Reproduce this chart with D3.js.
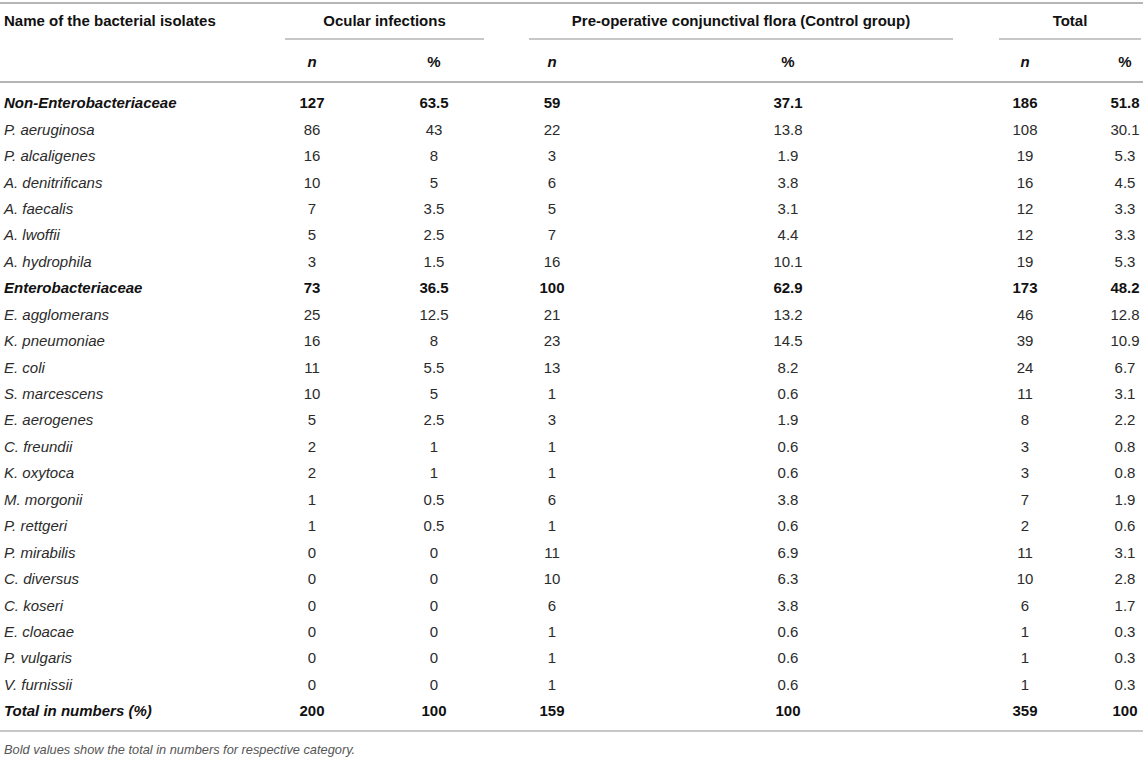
<!DOCTYPE html>
<html>
<head>
<meta charset="utf-8">
<script src="https://cdn.jsdelivr.net/npm/d3@7"></script>
<style>
  body { margin: 0; background: #fff; }
  svg text { font-family: "Liberation Sans", Arial, Helvetica, sans-serif; }
</style>
</head>
<body>
<div id="tbl"></div>
<script>

var width = 1143;
var height = 759;
var fontSize = "15px";

// table data
var isolates = ["Non-Enterobacteriaceae", "P. aeruginosa", "P. alcaligenes", "A. denitrificans",
  "A. faecalis", "A. lwoffii", "A. hydrophila", "Enterobacteriaceae", "E. agglomerans",
  "K. pneumoniae", "E. coli", "S. marcescens", "E. aerogenes", "C. freundii", "K. oxytoca",
  "M. morgonii", "P. rettgeri", "P. mirabilis", "C. diversus", "C. koseri", "E. cloacae",
  "P. vulgaris", "V. furnissii", "Total in numbers (%)"];
var boldRows = ["Non-Enterobacteriaceae", "Enterobacteriaceae", "Total in numbers (%)"];

var ocularN   = ["127", "86", "16", "10", "7", "5", "3", "73", "25", "16", "11", "10", "5", "2", "2", "1", "1", "0", "0", "0", "0", "0", "0", "200"];
var ocularPct = ["63.5", "43", "8", "5", "3.5", "2.5", "1.5", "36.5", "12.5", "8", "5.5", "5", "2.5", "1", "1", "0.5", "0.5", "0", "0", "0", "0", "0", "0", "100"];
var controlN   = ["59", "22", "3", "6", "5", "7", "16", "100", "21", "23", "13", "1", "3", "1", "1", "6", "1", "11", "10", "6", "1", "1", "1", "159"];
var controlPct = ["37.1", "13.8", "1.9", "3.8", "3.1", "4.4", "10.1", "62.9", "13.2", "14.5", "8.2", "0.6", "1.9", "0.6", "0.6", "3.8", "0.6", "6.9", "6.3", "3.8", "0.6", "0.6", "0.6", "100"];
var totalN   = ["186", "108", "19", "16", "12", "12", "19", "173", "46", "39", "24", "11", "8", "3", "3", "7", "2", "11", "10", "6", "1", "1", "1", "359"];
var totalPct = ["51.8", "30.1", "5.3", "4.5", "3.3", "3.3", "5.3", "48.2", "12.8", "10.9", "6.7", "3.1", "2.2", "0.8", "0.8", "1.9", "0.6", "3.1", "2.8", "1.7", "0.3", "0.3", "0.3", "100"];

var groups = ["Ocular infections", "Pre-operative conjunctival flora (Control group)", "Total"];
var firstHeader = "Name of the bacterial isolates";
var subHeaders = ["n", "%"];
var footnote = "Bold values show the total in numbers for respective category.";

var valueCols = [ocularN, ocularPct, controlN, controlPct, totalN, totalPct];
var colKeys = ["on", "op", "cn", "cp", "tn", "tp"];

// layout
var colX = d3.scaleOrdinal()
  .domain(colKeys)
  .range([312, 434, 552, 788, 1025, 1125]);

var groupSpan = [[285, 484], [529, 953], [999, 1141]];

var rowY = d3.scalePoint()
  .domain(d3.range(isolates.length))
  .range([103, 711]);

var lineColor = "#b5b5b5";
var textColor = "#2b2b2b";

var svg = d3.select("#tbl")
  .append("svg")
    .attr("width", width)
    .attr("height", height);

// rules
svg.append("line")
  .attr("x1", 0).attr("x2", width)
  .attr("y1", 3).attr("y2", 3)
  .attr("stroke", lineColor).attr("stroke-width", 2);

svg.append("line")
  .attr("x1", 0).attr("x2", width)
  .attr("y1", 82).attr("y2", 82)
  .attr("stroke", lineColor).attr("stroke-width", 2);

svg.append("line")
  .attr("x1", 0).attr("x2", width)
  .attr("y1", 731).attr("y2", 731)
  .attr("stroke", lineColor).attr("stroke-width", 1.5);

svg.selectAll(".gline")
  .data(groupSpan)
  .enter().append("line")
    .attr("class", "gline")
    .attr("x1", function(d) { return d[0]; })
    .attr("x2", function(d) { return d[1]; })
    .attr("y1", 39).attr("y2", 39)
    .attr("stroke", lineColor).attr("stroke-width", 1.5);

// headers
svg.append("text")
  .attr("x", 4).attr("y", 21).attr("dy", "0.35em")
  .attr("font-size", fontSize).attr("font-weight", "bold")
  .attr("fill", "#111")
  .text(firstHeader);

svg.selectAll(".ghead")
  .data(groups)
  .enter().append("text")
    .attr("class", "ghead")
    .attr("x", function(d, i) { return (groupSpan[i][0] + groupSpan[i][1]) / 2; })
    .attr("y", 21).attr("dy", "0.35em")
    .attr("text-anchor", "middle")
    .attr("font-size", fontSize).attr("font-weight", "bold")
    .attr("fill", "#111")
    .text(function(d) { return d; });

svg.selectAll(".shead")
  .data(colKeys)
  .enter().append("text")
    .attr("class", "shead")
    .attr("x", function(d) { return colX(d); })
    .attr("y", 62).attr("dy", "0.35em")
    .attr("text-anchor", "middle")
    .attr("font-size", fontSize).attr("font-weight", "bold")
    .attr("font-style", function(d, i) { return i % 2 == 0 ? "italic" : "normal"; })
    .attr("fill", "#111")
    .text(function(d, i) { return subHeaders[i % 2]; });

// body rows
var rows = svg.selectAll(".row")
  .data(isolates)
  .enter().append("g")
    .attr("class", "row")
    .attr("transform", function(d, i) { return "translate(0," + rowY(i) + ")"; });

rows.append("text")
  .attr("x", 4).attr("dy", "0.35em")
  .attr("font-size", fontSize)
  .attr("font-style", "italic")
  .attr("font-weight", function(d) { return boldRows.indexOf(d) >= 0 ? "bold" : "normal"; })
  .attr("fill", function(d) { return boldRows.indexOf(d) >= 0 ? "#111" : textColor; })
  .text(function(d) { return d; });

colKeys.forEach(function(k, c) {
  rows.append("text")
    .attr("x", colX(k)).attr("dy", "0.35em")
    .attr("text-anchor", "middle")
    .attr("font-size", fontSize)
    .attr("font-weight", function(d) { return boldRows.indexOf(d) >= 0 ? "bold" : "normal"; })
    .attr("fill", function(d) { return boldRows.indexOf(d) >= 0 ? "#111" : textColor; })
    .text(function(d, i) { return valueCols[c][i]; });
});

// footnote
svg.append("text")
  .attr("x", 4).attr("y", 750).attr("dy", "0.35em")
  .attr("font-size", "12.8px").attr("font-style", "italic")
  .attr("fill", "#555")
  .text(footnote);

</script>
</body>
</html>
